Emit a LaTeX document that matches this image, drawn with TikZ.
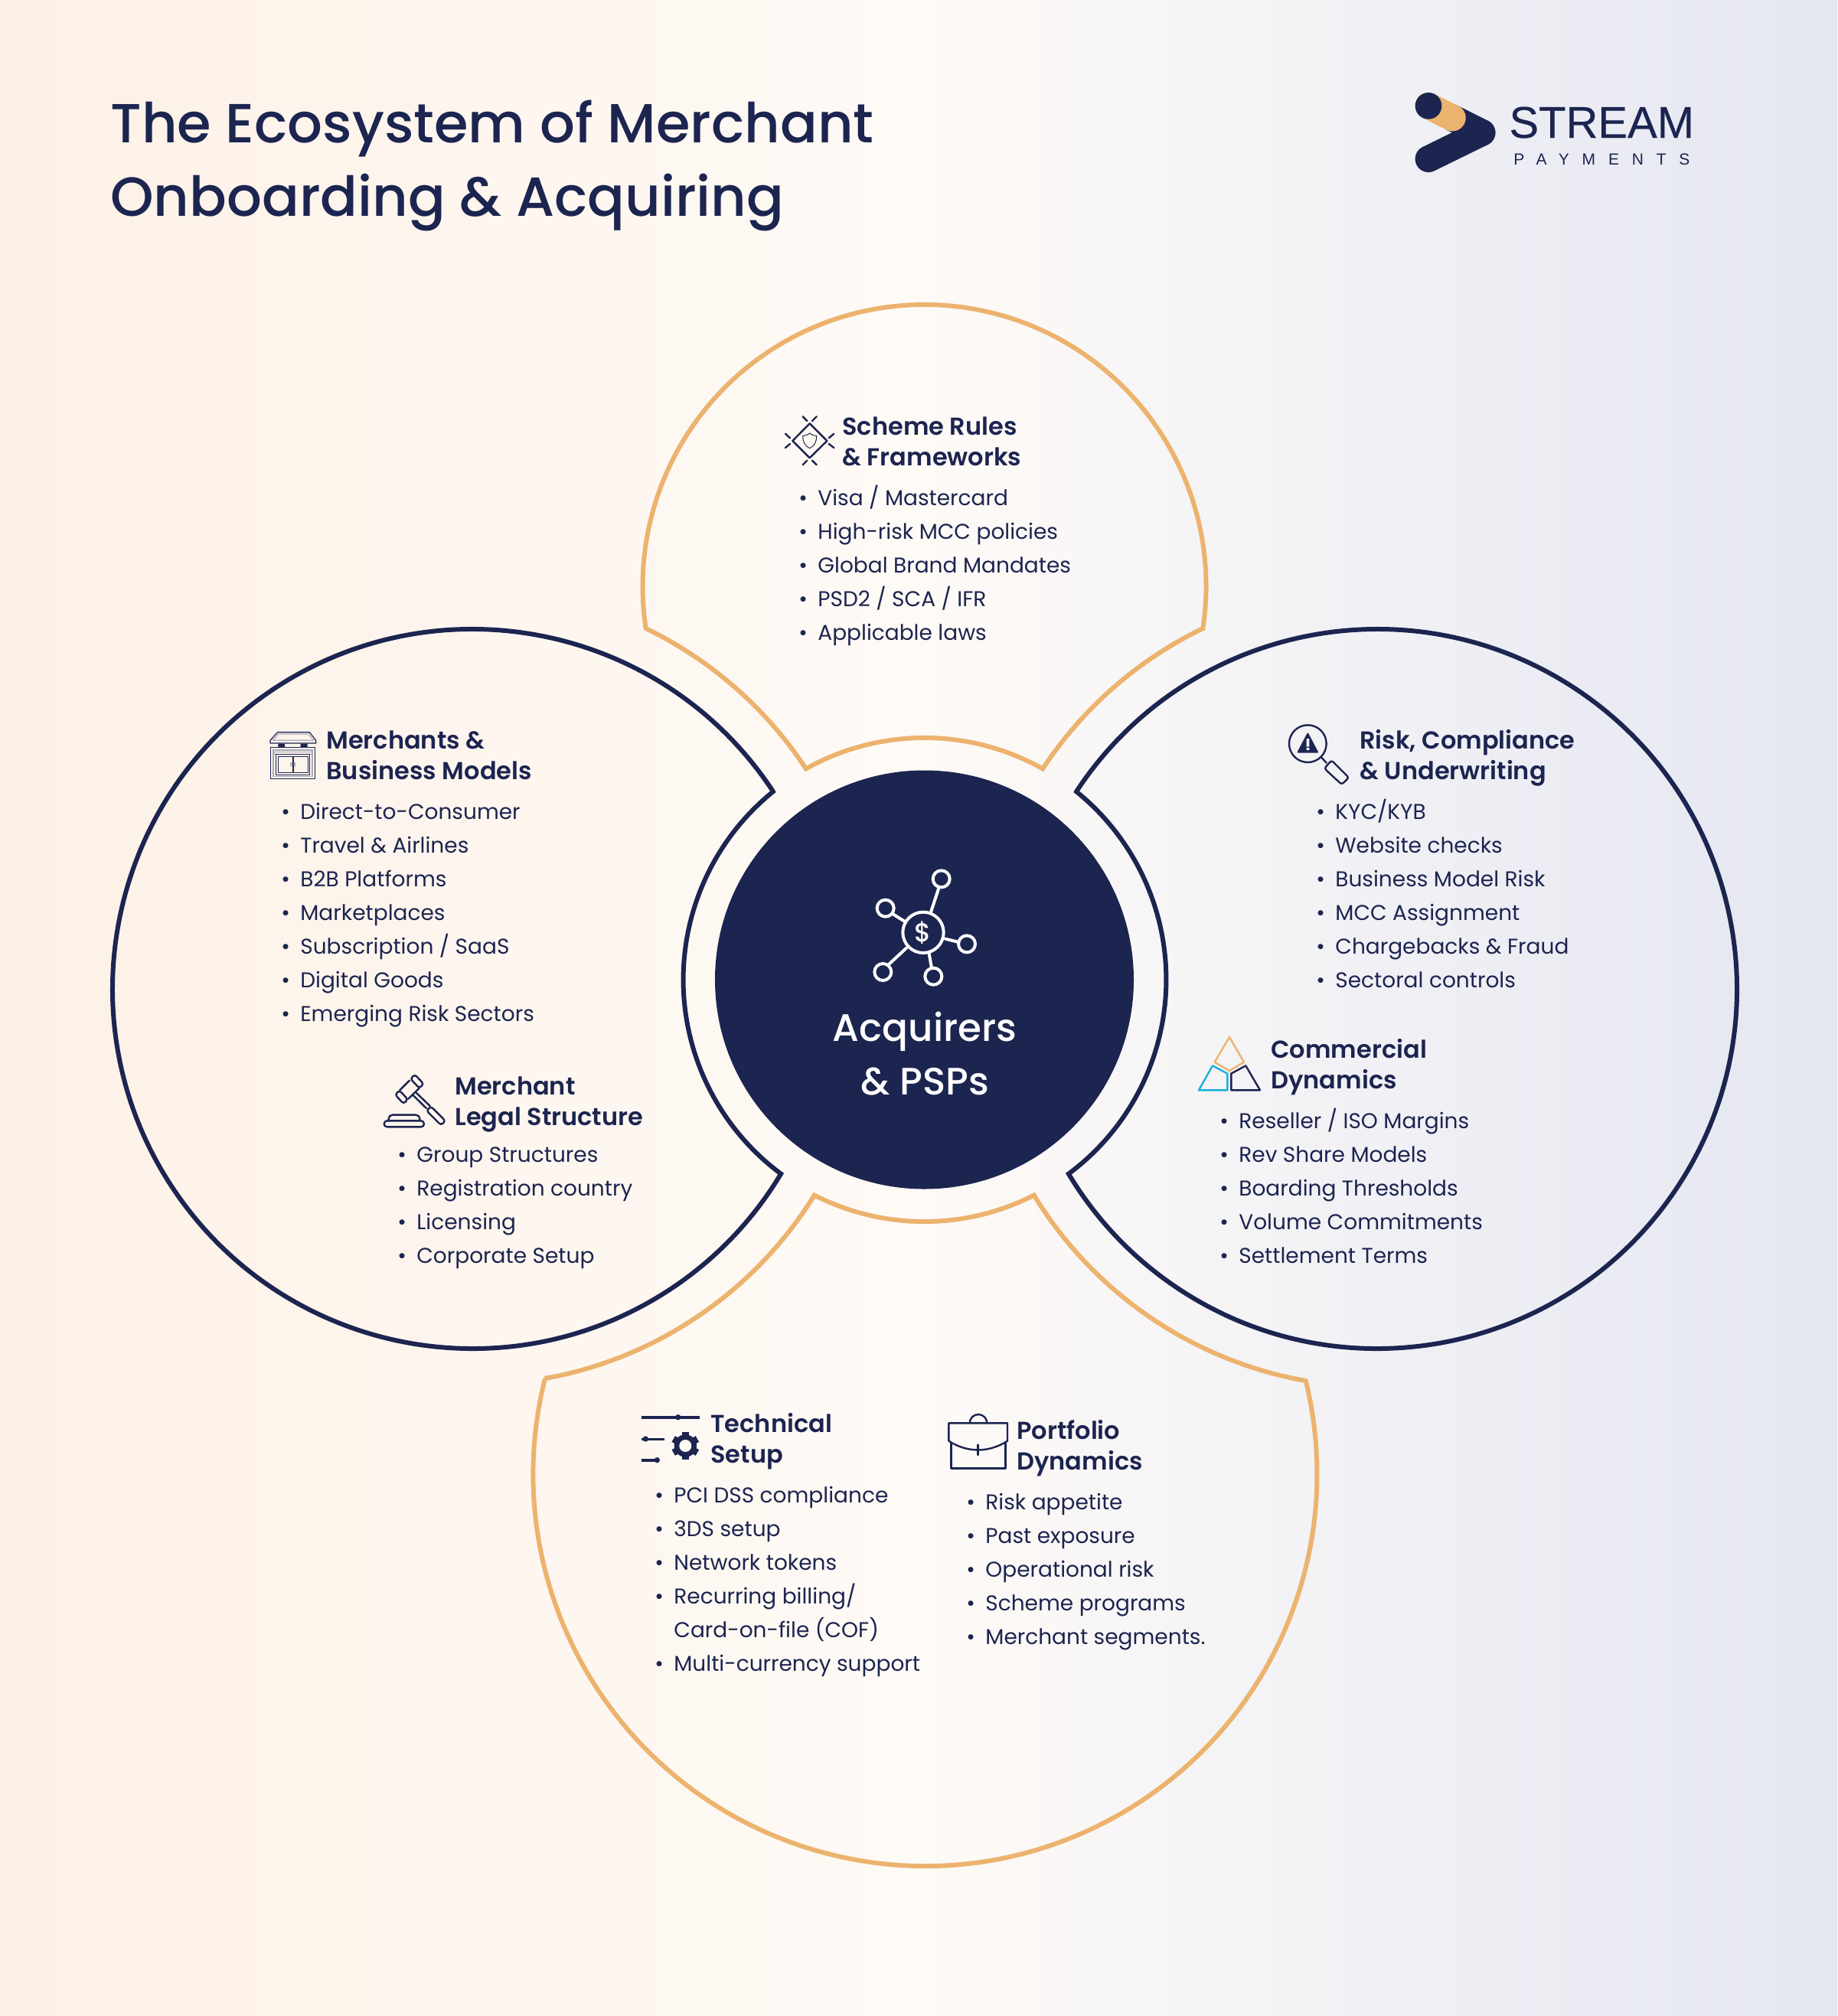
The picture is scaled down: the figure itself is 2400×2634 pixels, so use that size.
\documentclass[tikz,border=0pt]{standalone}
\usepackage{fontspec}
\setmainfont{Poppins}
\newfontfamily\popmed{Poppins Medium}
\newfontfamily\popsb{Poppins SemiBold}
\newfontfamily\logofont[LetterSpace=0,FakeBold=0.35]{Liberation Sans}
\newfontfamily\logosmall[LetterSpace=80]{Liberation Sans}
\definecolor{navy}{HTML}{1C2450}
\definecolor{peach}{HTML}{ECB36E}
\definecolor{cyanb}{HTML}{1AB0D8}
\definecolor{gline}{HTML}{A9A9BC}
\definecolor{bgA}{HTML}{FDF1E6}
\definecolor{bgB}{HTML}{FEFAF6}
\definecolor{bgC}{HTML}{F1F1F5}
\definecolor{bgD}{HTML}{E4E6F1}
\pgfdeclarehorizontalshading{pagebg}{100bp}{color(0bp)=(bgA);color(25bp)=(bgA);color(50bp)=(bgB);color(62bp)=(bgC);color(75bp)=(bgD);color(100bp)=(bgD)}
\newcommand\bu{\makebox[12.5pt][l]{{\fontsize{14}{14}\selectfont\raisebox{.0ex}{•}}}}
\newcommand\nb{\makebox[12.5pt][l]{}}
\newcommand\itemsat[4]{\foreach \t [count=\i] in {#4} {\node[itemtext,name=#1\i] at (#2,{-(#3+(\i-1)*44)}) {\t};}}
\begin{document}
\begin{tikzpicture}[x=0.5pt,y=0.5pt,
  itemtext/.style={anchor=base west,inner sep=0pt,text=navy,font=\fontsize{14}{14}\selectfont},
  headtext/.style={anchor=base west,inner sep=0pt,text=navy,font=\popsb\fontsize{16}{16}\selectfont},
  titletext/.style={anchor=base west,inner sep=0pt,text=navy,font=\popmed\fontsize{36}{36}\selectfont},
  hublabel/.style={anchor=base,inner sep=0pt,text=white,font=\popmed\fontsize{25}{25}\selectfont},
  navyline/.style={draw=navy,line width=3pt,miter limit=10},
  peachline/.style={draw=peach,line width=3pt,miter limit=10},
  ic/.style={draw=navy,line width=1.2pt,line join=round,line cap=round},
  iw/.style={draw=white,line width=2pt,line cap=round}]
\useasboundingbox (0,0) rectangle (2400,-2634);
\shade[shading=pagebg] (0,0) rectangle (2400,-2634);

% title
\node[titletext] (title1) at (144,-186) {The Ecosystem of Merchant};
\node[titletext] (title2) at (144,-282) {Onboarding \& Acquiring};

% logo
\begin{scope}[shift={(1780,-90)},scale=1/3,yscale=-1]
  \draw[navy,line width=17.4pt,line cap=round] (258,353) -- (468,250);
  \draw[navy,line width=17.4pt,line cap=round] (352,192) -- (468,250);
  \draw[peach,line width=17.4pt,line cap=round] (258,145) -- (352,192);
  \fill[navy] (258,145) circle (52);
\end{scope}
\node[anchor=base west,inner sep=0pt,text=navy,font=\logofont\fontsize{29}{29}\selectfont] (logo1) at (1971,-180) {STREAM};
\node[anchor=base west,inner sep=0pt,text=navy,font=\logosmall\fontsize{10.5}{10.5}\selectfont] (logo2) at (1977,-215) {PAYMENTS};

% shapes
\draw[peachline] (1207.5,-766)++(-8.61:368) arc[start angle=-8.61,end angle=188.61,radius=368]
   arc[start angle=64.19,end angle=33.35,radius=523]
   arc[start angle=119.3,end angle=60.7,radius=316]
   arc[start angle=146.65,end angle=115.81,radius=523] -- cycle;
\draw[navyline] (617,-1292)++(33.27:470) arc[start angle=33.27,end angle=329.06,radius=470]
   arc[start angle=233.39,end angle=128.94,radius=316] -- cycle;
\draw[navyline] (1799,-1292)++(146.73:470) arc[start angle=146.73,end angle=-149.06,radius=470]
   arc[start angle=-53.39,end angle=51.06,radius=316] -- cycle;
\draw[peachline] (1208.5,-1926)++(165.87:512) arc[start angle=165.87,end angle=373.78,radius=512]
   arc[start angle=259.94,end angle=211.4,radius=523]
   arc[start angle=297,end angle=243,radius=316]
   arc[start angle=-31.75,end angle=-79.78,radius=523] -- cycle;
\node[circle,fill=navy,inner sep=0pt,minimum size=273.5pt] (hub) at (1207.5,-1280) {};

% hub icon
\begin{scope}[shift={(1111,-1120)},scale=1/3,yscale=-1]
  \draw[iw] (285,295) circle (80);
  \foreach \a/\b in {356/85,137/200,456/340,127/450,325/467} \draw[iw] (\a,\b) circle (33);
  \draw[iw] (315,215) -- (347,118);
  \draw[iw] (213,252) -- (165,222);
  \draw[iw] (372,320) -- (424,333);
  \draw[iw] (220,355) -- (150,420);
  \draw[iw] (308,378) -- (318,434);
\end{scope}
\node[inner sep=0pt,text=white,font=\popmed\fontsize{17}{17}\selectfont] (dollar) at (1206,-1219) {\$};
\node[hublabel] (hub1) at (1208,-1360) {Acquirers};
\node[hublabel] (hub2) at (1208,-1430) {\& PSPs};

% scheme icon
\begin{scope}[shift={(1001,-520)},scale=1/3,yscale=-1]
  \draw[ic] (170,100) -- (238,168) -- (170,235) -- (103,168) -- cycle;
  \foreach \a/\b/\c/\d in {143/73/160/90,197/73/180/90,245/157/265/140,245/180/265/195,197/262/180/245,143/262/160/245,93/157/75/140,93/180/75/195} \draw[ic] (\a,\b) -- (\c,\d);
  \draw[ic,line width=.5pt] (170,138) .. controls (160,146) and (152,148) .. (143,148) .. controls (143,170) and (150,188) .. (170,197) .. controls (190,188) and (197,170) .. (197,148) .. controls (188,148) and (180,146) .. (170,138) -- cycle;
\end{scope}
\node[headtext] (h1a) at (1100,-568) {Scheme Rules};
\node[headtext] (h1b) at (1100,-608) {\& Frameworks};
\itemsat{a}{1043}{660}{\bu Visa / Mastercard,\bu High-risk MCC policies,\bu Global Brand Mandates,\bu PSD2 / SCA / IFR,\bu Applicable laws}

% shop icon
\begin{scope}[shift={(331,-930)},scale=1/3,yscale=-1]
  \draw[ic,line width=.6pt] (95,80) -- (220,80) -- (245,112) -- (245,123) -- (66,123) -- (66,112) -- cycle;
  \draw[gline,line width=.6pt] (98,87) -- (216,87) -- (236,112) -- (76,112) -- cycle;
  \fill[navy] (97,125) rectangle (123,140) (185,125) rectangle (212,140);
  \draw[ic,line width=.5pt] (68,140) rectangle (240,262);
  \draw[gline,line width=.8pt] (78,150) rectangle (231,254);
  \draw[gline,line width=.5pt] (83,157) rectangle (228,165);
  \draw[ic,line width=.5pt] (88,165) rectangle (220,247);
  \draw[ic,line width=.5pt] (97,175) rectangle (153,238) (158,175) rectangle (213,238);
  \fill[gline] (145,198) rectangle (152,214) (158,198) rectangle (165,214);
\end{scope}
\node[headtext] (h2a) at (426,-978) {Merchants \&};
\node[headtext] (h2b) at (426,-1018) {Business Models};
\itemsat{b}{367}{1070}{\bu Direct-to-Consumer,\bu Travel \& Airlines,\bu B2B Platforms,\bu Marketplaces,\bu Subscription / SaaS,\bu Digital Goods,\bu Emerging Risk Sectors}

% gavel icon
\begin{scope}[shift={(480,-1380)},scale=1/3,yscale=-1]
  \draw[ic,rounded corners=1.7pt] (168.5,88.5) -- (185.5,71.5) -- (220.5,108.5) -- (203.5,125.5) -- cycle;
  \draw[ic,rounded corners=1.7pt] (108.5,150.5) -- (125.5,133.5) -- (158.5,169.5) -- (141.5,186.5) -- cycle;
  \draw[ic] (165,95) -- (127,133);
  \draw[ic] (203,125) -- (160,167);
  \draw[ic] (178,152) -- (232,205);
  \draw[ic] (190,142) -- (245,195);
  \draw[ic,rounded corners=1.7pt] (231.5,213.5) -- (248.5,196.5) -- (305.5,253.5) -- (288.5,270.5) -- cycle;
  \draw[ic,rounded corners=2.5pt] (83,253) -- (83,230) -- (205,230) -- (205,253);
  \draw[ic,rounded corners=2pt] (65,277) -- (65,253) -- (222,253) -- (222,277) -- cycle;
\end{scope}
\node[headtext] (h3a) at (594,-1430) {Merchant};
\node[headtext] (h3b) at (594,-1470) {Legal Structure};
\itemsat{c}{519}{1518}{\bu Group Structures,\bu Registration country,\bu Licensing,\bu Corporate Setup}

% risk icon
\begin{scope}[shift={(1661,-930)},scale=1/3,yscale=-1]
  \draw[ic] (142,125) circle (73);
  \fill[navy,draw=navy,line width=1pt,line join=round] (142,86) -- (180,158) -- (104,158) -- cycle;
  \fill[bgC] (137,105) rectangle (148,137) (137,141) rectangle (148,150);
  \draw[ic] (195,178) -- (215,200);
  \draw[ic,rounded corners=1.5pt] (207,222) -- (235,190) -- (303,258) -- (275,285) -- cycle;
\end{scope}
\node[headtext] (h4a) at (1776,-978) {Risk, Compliance};
\node[headtext] (h4b) at (1776,-1018) {\& Underwriting};
\itemsat{d}{1719}{1070}{\bu KYC/KYB,\bu Website checks,\bu Business Model Risk,\bu MCC Assignment,\bu Chargebacks \& Fraud,\bu Sectoral controls}

% commercial icon
\begin{scope}[shift={(1540,-1340)},scale=1/3,yscale=-1]
  \draw[ic,draw=peach] (198,45) -- (255,143) -- (198,177) -- (140,143) -- cycle;
  \draw[ic,draw=cyanb] (132,157) -- (190,188) -- (190,253) -- (78,253) -- cycle;
  \draw[ic] (262,157) -- (205,188) -- (205,253) -- (318,253) -- cycle;
\end{scope}
\node[headtext] (h5a) at (1660,-1382) {Commercial};
\node[headtext] (h5b) at (1660,-1422) {Dynamics};
\itemsat{e}{1593}{1474}{\bu Reseller / ISO Margins,\bu Rev Share Models,\bu Boarding Thresholds,\bu Volume Commitments,\bu Settlement Terms}

% technical icon
\begin{scope}[shift={(820,-1820)},scale=1/3,yscale=-1]
  \draw[navy,line width=2pt] (53,95) -- (282,95);
  \fill[navy] (197,95) circle (11);
  \draw[navy,line width=1.5pt] (53,180) -- (145,180);
  \fill[navy] (70,180) circle (11);
  \draw[navy,line width=2pt] (53,263) -- (115,263);
  \fill[navy] (115,263) circle (11);
  \fill[navy] (226,207) circle (44);
  \foreach \r in {0,60,120,180,240,300} \draw[navy,line width=4.4pt] (226,207) -- ++(\r+30:54);
  \fill[bgB] (226,207) circle (24);
\end{scope}
\node[headtext] (h6a) at (928,-1871) {Technical};
\node[headtext] (h6b) at (928,-1911) {Setup};
\itemsat{f}{855}{1963}{\bu PCI DSS compliance,\bu 3DS setup,\bu Network tokens,\bu Recurring billing/,\nb Card-on-file (COF),\bu Multi-currency support}

% portfolio icon
\begin{scope}[shift={(1220,-1830)},scale=1/3,yscale=-1]
  \draw[ic] (58,158) -- (58,88) -- (288,88) -- (288,158) .. controls (215,205) and (131,205) .. (58,158);
  \draw[ic] (67,165) -- (67,265) -- (280,265) -- (280,165);
  \draw[ic] (140,88) arc[start angle=180,end angle=360,radius=34];
  \draw[ic] (173,173) -- (173,213);
\end{scope}
\node[headtext] (h7a) at (1328,-1880) {Portfolio};
\node[headtext] (h7b) at (1328,-1920) {Dynamics};
\itemsat{g}{1262}{1972}{\bu Risk appetite,\bu Past exposure,\bu Operational risk,\bu Scheme programs,\bu Merchant segments.}
\end{tikzpicture}
\end{document}
